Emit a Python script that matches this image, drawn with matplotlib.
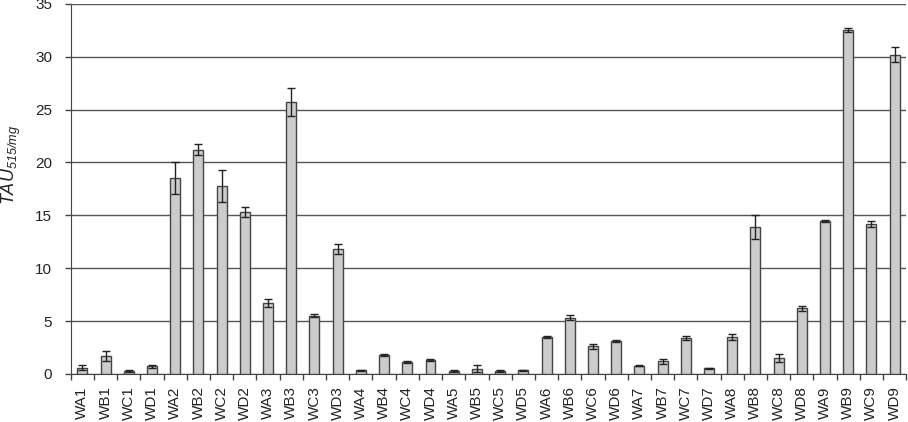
import numpy as np
import matplotlib.pyplot as plt

plt.rcParams['font.family'] = ['Liberation Sans', 'DejaVu Sans']
plt.rcParams['mathtext.fontset'] = 'custom'
plt.rcParams['mathtext.it'] = 'Liberation Sans:italic'
plt.rcParams['mathtext.rm'] = 'Liberation Sans:italic'

# samples and measured values
labels = ['WA1', 'WB1', 'WC1', 'WD1', 'WA2', 'WB2', 'WC2', 'WD2',
          'WA3', 'WB3', 'WC3', 'WD3', 'WA4', 'WB4', 'WC4', 'WD4',
          'WA5', 'WB5', 'WC5', 'WD5', 'WA6', 'WB6', 'WC6', 'WD6',
          'WA7', 'WB7', 'WC7', 'WD7', 'WA8', 'WB8', 'WC8', 'WD8',
          'WA9', 'WB9', 'WC9', 'WD9']
values = [0.6, 1.7, 0.25, 0.7, 18.5, 21.2, 17.8, 15.3,
          6.7, 25.7, 5.5, 11.8, 0.35, 1.8, 1.1, 1.3,
          0.3, 0.5, 0.3, 0.35, 3.5, 5.3, 2.6, 3.1,
          0.75, 1.2, 3.4, 0.55, 3.5, 13.9, 1.5, 6.2,
          14.5, 32.5, 14.2, 30.2]
errors = [0.25, 0.5, 0.1, 0.1, 1.5, 0.5, 1.5, 0.5,
          0.35, 1.3, 0.15, 0.5, 0.05, 0.1, 0.1, 0.1,
          0.1, 0.3, 0.1, 0.05, 0.1, 0.25, 0.2, 0.1,
          0.05, 0.25, 0.2, 0.05, 0.25, 1.1, 0.4, 0.25,
          0.1, 0.2, 0.3, 0.7]

fig = plt.figure(figsize=(9.08, 4.22), dpi=100)
ax = fig.add_axes([0.078, 0.114, 0.92, 0.877])

x = np.arange(len(labels))
ax.bar(x, values, width=0.43, color='#cccccc', edgecolor='#444444', linewidth=1.0, zorder=3)
ax.errorbar(x, values, yerr=errors, fmt='none', ecolor='#222222', elinewidth=1.0,
            capsize=3, capthick=1.0, zorder=4)

ax.set_ylim(0, 35)
ax.set_xlim(-0.5, len(labels) - 0.5)
ax.set_yticks(np.arange(0, 36, 5))
ax.yaxis.grid(True, color='#555555', linewidth=1.0, zorder=0)
ax.set_axisbelow(True)

ax.set_xticks(x)
ax.set_xticklabels(labels, rotation=90, fontsize=11, color='#222222')
ax.set_xticks(np.arange(-0.5, len(labels)), minor=True)
ax.tick_params(axis='x', which='major', length=0, pad=9)
ax.tick_params(axis='x', which='minor', length=4, width=1, color='#444444')
ax.tick_params(axis='y', length=4.5, width=1, color='#444444', labelsize=11,
               labelcolor='#222222', pad=9)

for s in ['top', 'right']:
    ax.spines[s].set_visible(False)
ax.spines['left'].set_color('#444444')
ax.spines['bottom'].set_color('#444444')

fig.text(11 / 908, 1 - 165 / 422, 'TAU$_{515/mg}$', fontsize=13, style='italic',
         color='#222222', rotation=90, ha='center', va='center')

fig.savefig('out.png', dpi=100)
